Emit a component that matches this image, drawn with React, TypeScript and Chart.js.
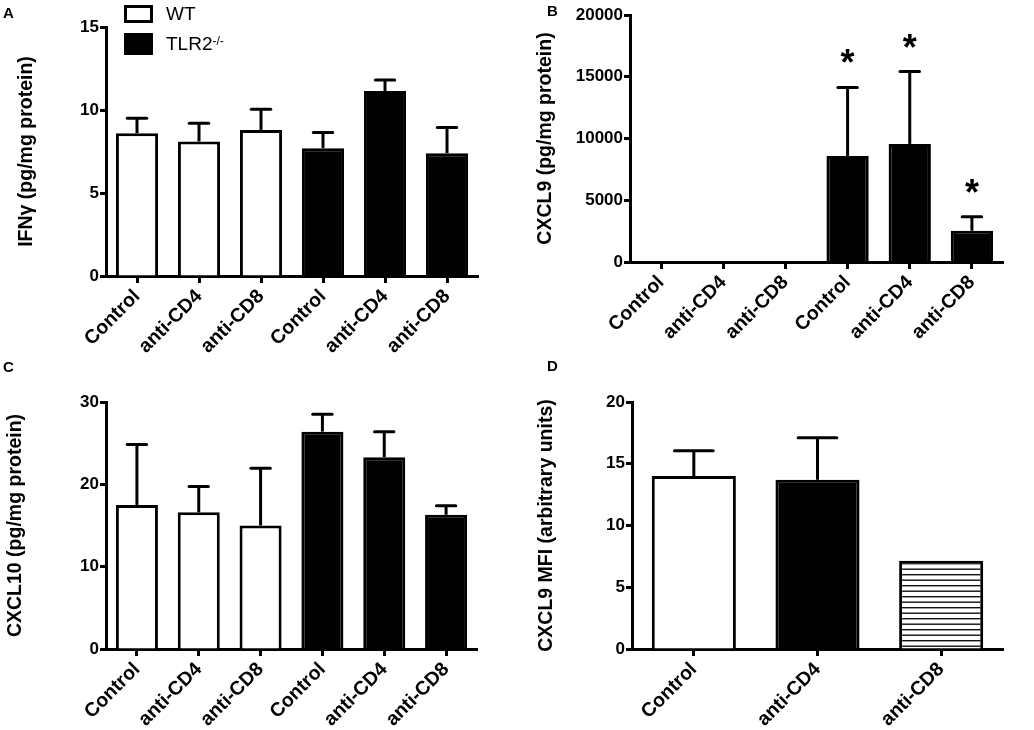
import React, { useEffect, useRef } from "react";
import { Chart, registerables } from "chart.js";

Chart.register(...registerables);

// ---------- data ----------
const groupLabels = ["Control", "anti-CD4", "anti-CD8", "Control", "anti-CD4", "anti-CD8"];
const groupFills = ["#ffffff", "#ffffff", "#ffffff", "#000000", "#000000", "#000000"];

const ifngMean = [8.6, 8.1, 8.8, 7.7, 11.15, 7.4];
const ifngSem = [0.9, 1.1, 1.25, 0.95, 0.65, 1.55];
const ifngTicks = [0, 5, 10, 15];

const cxcl9Mean = [60, 60, 60, 8590, 9560, 2530];
const cxcl9Sem = [0, 0, 0, 5540, 5860, 1130];
const cxcl9Signif = [false, false, false, true, true, true];
const cxcl9Ticks = [0, 5000, 10000, 15000, 20000];

const cxcl10Mean = [17.5, 16.6, 15.0, 26.4, 23.3, 16.3];
const cxcl10Sem = [7.35, 3.15, 6.95, 2.1, 3.1, 1.1];
const cxcl10Ticks = [0, 10, 20, 30];

const mfiLabels = ["Control", "anti-CD4", "anti-CD8"];
const mfiMean = [14.0, 13.7, 7.15];
const mfiSem = [2.05, 3.4, 0];
const mfiTicks = [0, 5, 10, 15, 20];

const legendLabels = ["WT", "TLR2"];

const FONT = "'Liberation Sans', Arial, Helvetica, sans-serif";

function hatchPattern(): CanvasPattern | string {
  const c = document.createElement("canvas");
  c.width = 8;
  c.height = 11;
  const g = c.getContext("2d");
  if (!g) return "#ffffff";
  g.fillStyle = "#ffffff";
  g.fillRect(0, 0, 8, 11);
  g.fillStyle = "#111111";
  g.fillRect(0, 0, 8, 1.4);
  g.fillRect(0, 5.5, 8, 1.4);
  const p = g.createPattern(c, "repeat");
  return p || "#ffffff";
}

type PanelCfg = {
  labels: string[];
  mean: number[];
  sem: number[];
  fills: (string | CanvasPattern)[] | (() => (string | CanvasPattern)[]);
  ticks: number[];
  title: string;
  w: number;
  h: number;
  padL: number;
  area: { left: number; right: number; top: number; bottom: number };
  stars?: boolean[];
};

function BarPanel(props: { cfg: PanelCfg; style: React.CSSProperties }) {
  const ref = useRef<HTMLCanvasElement | null>(null);
  const { cfg } = props;
  useEffect(() => {
    if (!ref.current) return;
    const fills = typeof cfg.fills === "function" ? cfg.fills() : cfg.fills;
    const errPlugin = {
      id: "errbars",
      afterDatasetsDraw(chart: any) {
        const ctx = chart.ctx;
        const meta = chart.getDatasetMeta(0);
        const ys = chart.scales.y;
        ctx.save();
        ctx.strokeStyle = "#000";
        ctx.fillStyle = "#000";
        ctx.lineWidth = 3;
        meta.data.forEach((bar: any, i: number) => {
          const s = cfg.sem[i];
          const top = ys.getPixelForValue(cfg.mean[i] + s);
          if (s > 0) {
            const base = ys.getPixelForValue(cfg.mean[i]);
            const half = bar.width * 0.23;
            ctx.lineCap = "butt";
            ctx.beginPath();
            ctx.moveTo(bar.x, base);
            ctx.lineTo(bar.x, top);
            ctx.stroke();
            ctx.lineCap = "round";
            ctx.beginPath();
            ctx.moveTo(bar.x - half, top);
            ctx.lineTo(bar.x + half, top);
            ctx.stroke();
          }
          if (cfg.stars && cfg.stars[i]) {
            ctx.font = `bold 36px ${FONT}`;
            ctx.textAlign = "center";
            ctx.textBaseline = "alphabetic";
            const m = ctx.measureText("*");
            const center = top - 31;
            const baseline = center + (m.actualBoundingBoxAscent - m.actualBoundingBoxDescent) / 2;
            ctx.fillText("*", bar.x, baseline);
          }
        });
        ctx.restore();
      },
    };
    const t = cfg.ticks;
    const chart = new Chart(ref.current, {
      type: "bar",
      data: {
        labels: cfg.labels,
        datasets: [
          {
            data: cfg.mean,
            backgroundColor: fills as any,
            borderColor: "#000",
            borderWidth: 3,
            borderSkipped: "start",
            categoryPercentage: 1,
            barPercentage: 0.68,
          },
        ],
      },
      options: {
        responsive: false,
        animation: false,
        events: [],
        layout: {
          padding: {
            left: cfg.padL,
            right: cfg.w - cfg.area.right,
            top: cfg.area.top,
            bottom: 0,
          },
        },
        plugins: { legend: { display: false }, tooltip: { enabled: false } },
        scales: {
          x: {
            offset: true,
            afterFit: (s: any) => {
              s.height = cfg.h - cfg.area.bottom;
            },
            grid: {
              offset: false,
              drawOnChartArea: false,
              drawTicks: true,
              tickLength: 7,
              tickWidth: 3,
              tickColor: "#000",
              color: "#000",
            },
            border: { display: true, color: "#000", width: 3 },
            ticks: {
              color: "#000",
              font: { family: FONT, size: 19.5, weight: "bold" },
              maxRotation: 45,
              minRotation: 45,
              autoSkip: false,
              padding: 2,
            },
          },
          y: {
            min: t[0],
            max: t[t.length - 1],
            afterFit: (s: any) => {
              s.width = cfg.area.left - cfg.padL;
            },
            grid: {
              drawOnChartArea: false,
              drawTicks: true,
              tickLength: 6,
              tickWidth: 3,
              tickColor: "#000",
              color: "#000",
            },
            border: { display: true, color: "#000", width: 3 },
            ticks: {
              stepSize: t[1] - t[0],
              color: "#000",
              font: { family: FONT, size: 17, weight: "bold" },
              padding: 1,
              callback: (v: any) => String(v),
            },
            title: {
              display: true,
              text: cfg.title,
              color: "#000",
              font: { family: FONT, size: 19.5, weight: "bold" },
              padding: { top: 4, bottom: 4 },
            },
          },
        },
      },
      plugins: [errPlugin],
    });
    return () => chart.destroy();
  }, []);
  return <canvas ref={ref} width={cfg.w} height={cfg.h} style={{ position: "absolute", ...props.style }} />;
}

const panelA: PanelCfg = {
  labels: groupLabels,
  mean: ifngMean,
  sem: ifngSem,
  fills: groupFills,
  ticks: ifngTicks,
  title: "IFNγ (pg/mg protein)",
  w: 517,
  h: 365,
  padL: 11,
  area: { left: 106, right: 478, top: 27, bottom: 276 },
};
const panelB: PanelCfg = {
  labels: groupLabels,
  mean: cxcl9Mean,
  sem: cxcl9Sem,
  fills: groupFills,
  ticks: cxcl9Ticks,
  title: "CXCL9 (pg/mg protein)",
  w: 517,
  h: 365,
  padL: 13,
  area: { left: 113, right: 486, top: 15, bottom: 262 },
  stars: cxcl9Signif,
};
const panelC: PanelCfg = {
  labels: groupLabels,
  mean: cxcl10Mean,
  sem: cxcl10Sem,
  fills: groupFills,
  ticks: cxcl10Ticks,
  title: "CXCL10 (pg/mg protein)",
  w: 517,
  h: 365,
  padL: 0,
  area: { left: 106, right: 477, top: 37, bottom: 284 },
};
const panelD: PanelCfg = {
  labels: mfiLabels,
  mean: mfiMean,
  sem: mfiSem,
  fills: () => ["#ffffff", "#000000", hatchPattern()],
  ticks: mfiTicks,
  title: "CXCL9 MFI (arbitrary units)",
  w: 517,
  h: 365,
  padL: 14,
  area: { left: 115, right: 486, top: 37, bottom: 284 },
};

const letterStyle: React.CSSProperties = {
  position: "absolute",
  fontFamily: FONT,
  fontWeight: "bold",
  fontSize: 15,
  lineHeight: "15px",
  color: "#000",
};

export default function App() {
  return (
    <div
      style={{
        position: "fixed",
        left: 0,
        top: 0,
        width: 1034,
        height: 730,
        background: "#fff",
        overflow: "hidden",
      }}
    >
      <BarPanel cfg={panelA} style={{ left: 0, top: 0 }} />
      <BarPanel cfg={panelB} style={{ left: 517, top: 0 }} />
      <BarPanel cfg={panelC} style={{ left: 0, top: 365 }} />
      <BarPanel cfg={panelD} style={{ left: 517, top: 365 }} />

      <div style={{ ...letterStyle, left: 3, top: 5 }}>A</div>
      <div style={{ ...letterStyle, left: 547, top: 3 }}>B</div>
      <div style={{ ...letterStyle, left: 3, top: 359 }}>C</div>
      <div style={{ ...letterStyle, left: 547, top: 358 }}>D</div>

      {/* legend */}
      <div
        style={{
          position: "absolute",
          left: 124,
          top: 5,
          width: 29,
          height: 18,
          border: "3px solid #000",
          boxSizing: "border-box",
          background: "#fff",
        }}
      />
      <div
        style={{
          position: "absolute",
          left: 124,
          top: 33,
          width: 29,
          height: 22,
          background: "#000",
        }}
      />
      <div
        style={{
          position: "absolute",
          left: 166,
          top: 3,
          fontFamily: FONT,
          fontSize: 19,
          lineHeight: "22px",
          color: "#000",
        }}
      >
        {legendLabels[0]}
      </div>
      <div
        style={{
          position: "absolute",
          left: 166,
          top: 33,
          fontFamily: FONT,
          fontSize: 19,
          lineHeight: "22px",
          color: "#000",
          whiteSpace: "nowrap",
        }}
      >
        {legendLabels[1]}
        <sup style={{ fontSize: 12, verticalAlign: "top", position: "relative", top: -3 }}>-/-</sup>
      </div>
    </div>
  );
}
